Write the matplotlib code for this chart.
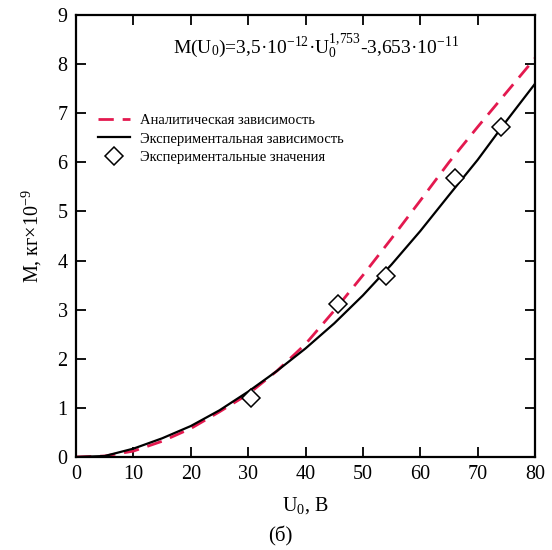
import numpy as np
import matplotlib
matplotlib.use('Agg')
import matplotlib.pyplot as plt

# Data (M in kg x 1e-9, U0 in V)
u_curve = [0, 5, 10, 15, 20, 25, 30, 35, 40, 45, 50, 55, 60, 65, 70, 75, 80]
m_analytic = [0, 0.02, 0.12, 0.32, 0.58, 0.92, 1.28, 1.75, 2.30, 2.98, 3.70,
              4.45, 5.22, 6.00, 6.72, 7.42, 8.12]
m_experim = [0, 0.02, 0.17, 0.38, 0.63, 0.95, 1.33, 1.75, 2.21, 2.72, 3.29,
             3.92, 4.60, 5.33, 6.05, 6.84, 7.60]
u_points = [30.5, 45.6, 54.0, 66.0, 74.0]
m_points = [1.20, 3.12, 3.69, 5.68, 6.72]

plt.rcParams['font.family'] = ['Liberation Serif', 'DejaVu Serif']
plt.rcParams['mathtext.fontset'] = 'custom'
plt.rcParams['mathtext.rm'] = 'Liberation Serif'
plt.rcParams['mathtext.it'] = 'Liberation Serif:italic'
plt.rcParams['mathtext.bf'] = 'Liberation Serif:bold'

fig = plt.figure(figsize=(5.52, 5.50), dpi=100)
ax = fig.add_axes([0.1377, 0.1691, 0.8315, 0.8036])

ax.plot(u_curve, m_analytic, color='#e3194f', lw=2.0, dashes=(5.5, 3.2),
        label='Аналитическая зависимость')
ax.plot(u_curve, m_experim, color='black', lw=1.6,
        label='Экспериментальная зависимость')
ax.plot(u_points, m_points, ls='none', marker='D', ms=9, mfc='white',
        mec='black', mew=1.1, label='Экспериментальные значения')

ax.set_xlim(0, 80)
ax.set_ylim(0, 9)
ax.set_xticks(np.arange(0, 81, 10))
ax.set_yticks(np.arange(0, 10, 1))
ax.tick_params(direction='in', length=7, width=1.3, labelsize=14.5,
               top=True, right=True, pad=6)
for s in ax.spines.values():
    s.set_linewidth(1.6)

ax.set_xlabel('U$_0$, В', fontsize=14.5, labelpad=8)
ax.set_ylabel('M, кг×10$^{-9}$', fontsize=14.5, labelpad=10)

ax.text(41.8, 8.35, 'M(U$_0$)=3,5·10$^{-12}$·U$_0^{1{,}753}$-3,653·10$^{-11}$',
        fontsize=14, ha='center', va='center')

ax.legend(loc='upper left', bbox_to_anchor=(0.048, 0.776), frameon=False,
          fontsize=10.5, borderpad=0, borderaxespad=0, handlelength=2.2,
          handletextpad=0.7, labelspacing=0.35)

fig.text(0.507, 0.024, '(б)', fontsize=15, ha='center', va='center')

fig.savefig('out.png', dpi=100)
